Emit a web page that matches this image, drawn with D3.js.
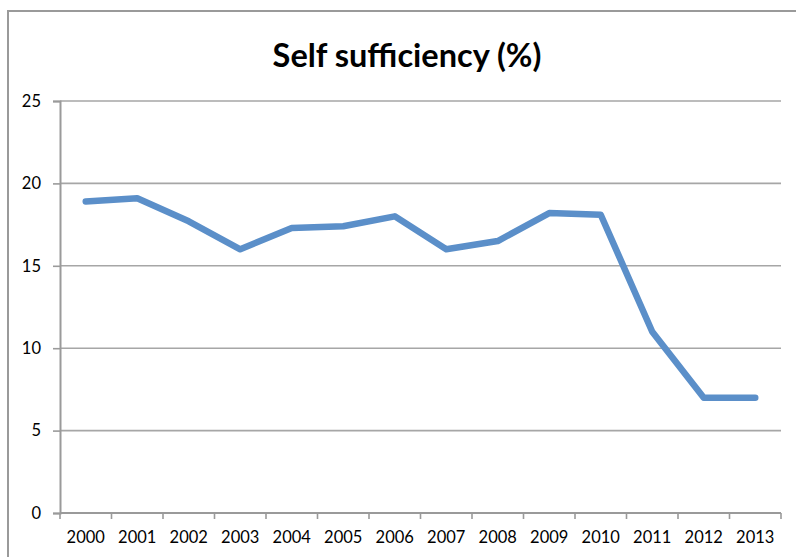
<!DOCTYPE html>
<html>
<head>
<meta charset="utf-8">
<script src="https://cdn.jsdelivr.net/npm/d3@7"></script>
<style>
  html, body { margin: 0; padding: 0; background: #fff; }
  svg { display: block; }
  text { font-family: Lato, "Open Sans", "Liberation Sans", sans-serif; fill: #000; }
</style>
</head>
<body>
<svg id="chart" width="796" height="557"></svg>
<script>
// Self sufficiency by year (%)
const years = ["2000","2001","2002","2003","2004","2005","2006","2007","2008","2009","2010","2011","2012","2013"];
const values = [18.9, 19.1, 17.7, 16.0, 17.3, 17.4, 18.0, 16.0, 16.5, 18.2, 18.1, 11.0, 7.0, 7.0];
const yTicks = [0, 5, 10, 15, 20, 25];
const title = "Self sufficiency (%)";

const svg = d3.select("#chart");
const W = 796, H = 557;
const plot = { left: 60, right: 781, top: 101, bottom: 513 };

// chart frame
svg.append("rect")
  .attr("x", 8).attr("y", 11)
  .attr("width", W + 20).attr("height", H + 20)
  .attr("fill", "#fff").attr("stroke", "#9a9a9a").attr("stroke-width", 2);

const x = d3.scaleBand().domain(years).range([plot.left, plot.right]).padding(0);
const y = d3.scaleLinear().domain([0, 25]).range([plot.bottom, plot.top]);

// horizontal gridlines
svg.append("g")
  .selectAll("line")
  .data(yTicks.filter(d => d > 0))
  .join("line")
  .attr("x1", plot.left).attr("x2", plot.right)
  .attr("y1", d => y(d)).attr("y2", d => y(d))
  .attr("stroke", "#a6a6a6").attr("stroke-width", 1.6);

// y axis
const yAxis = svg.append("g")
  .attr("transform", `translate(${plot.left},0)`)
  .call(d3.axisLeft(y).tickValues(yTicks).tickSize(7).tickPadding(12).tickFormat(d3.format("d")));
yAxis.select(".domain").attr("stroke", "#9a9a9a").attr("stroke-width", 2);
yAxis.selectAll(".tick line").attr("stroke", "#9a9a9a").attr("stroke-width", 1.6);
yAxis.selectAll(".tick text").attr("font-size", 16.5).attr("font-family", "Lato, 'Open Sans', sans-serif").attr("fill", "#000");

// x axis with ticks at category boundaries
const xAxisG = svg.append("g").attr("transform", `translate(0,${plot.bottom})`);
xAxisG.append("line")
  .attr("x1", plot.left).attr("x2", plot.right)
  .attr("stroke", "#9a9a9a").attr("stroke-width", 2);
const boundaries = years.map(d => x(d)).concat([x(years[years.length - 1]) + x.bandwidth()]);
xAxisG.selectAll("line.tick")
  .data(boundaries)
  .join("line")
  .attr("class", "tick")
  .attr("x1", d => d).attr("x2", d => d)
  .attr("y1", 0).attr("y2", 6)
  .attr("stroke", "#9a9a9a").attr("stroke-width", 1.6);
xAxisG.selectAll("text")
  .data(years)
  .join("text")
  .attr("x", d => x(d) + x.bandwidth() / 2)
  .attr("y", 30)
  .attr("text-anchor", "middle")
  .attr("font-size", 16.5)
  .text(d => d);

// data line
const line = d3.line()
  .x((d, i) => x(years[i]) + x.bandwidth() / 2)
  .y(d => y(d));
svg.append("path")
  .datum(values)
  .attr("d", line)
  .attr("fill", "none")
  .attr("stroke", "#5b8fc9")
  .attr("stroke-width", 6.5)
  .attr("stroke-linejoin", "round")
  .attr("stroke-linecap", "round");

// title
svg.append("text")
  .attr("x", 407).attr("y", 67)
  .attr("text-anchor", "middle")
  .attr("font-size", 32.5)
  .attr("font-weight", "bold")
  .text(title);
</script>
</body>
</html>
